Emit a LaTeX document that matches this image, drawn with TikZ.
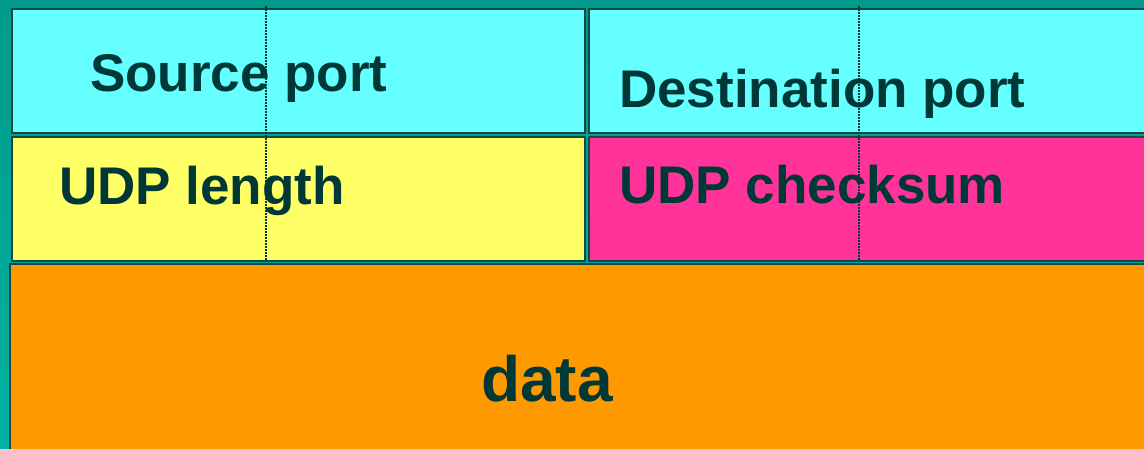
\documentclass[tikz,border=0pt]{standalone}
\usepackage{fontspec}
\setmainfont{Liberation Sans}
\definecolor{bgteal}{HTML}{009A8A}
\definecolor{bgteal2}{HTML}{00B2A2}
\definecolor{edge}{HTML}{164848}
\definecolor{ink}{HTML}{003838}
\definecolor{cyanf}{HTML}{66FFFF}
\definecolor{yellowf}{HTML}{FFFF66}
\definecolor{pinkf}{HTML}{FF3399}
\definecolor{orangef}{HTML}{FF9900}
\begin{document}
\begin{tikzpicture}[x=1pt,y=-1pt,
  field/.style={draw=edge,line width=2.5pt},
  lab/.style={anchor=base west,inner sep=0pt,text=ink,font=\fontsize{53}{60}\selectfont\bfseries},
  guide/.style={draw=ink,line width=1.2pt,dash pattern=on 2pt off 1pt}]
\useasboundingbox (0,0) rectangle (1144,449);
\shade[top color=bgteal,bottom color=bgteal2] (0,0) rectangle (1144,449);
\path[field,fill=cyanf] (12,9) rectangle (585,133);
\path[field,fill=cyanf] (589,9) rectangle (1150,133);
\path[field,fill=yellowf] (12,137) rectangle (585,261);
\path[field,fill=pinkf] (589,137) rectangle (1150,261);
\path[field,fill=orangef] (10,264) rectangle (1150,460);
\coordinate (g1t) at (266,6);
\coordinate (g1b) at (266,261);
\coordinate (g2t) at (859,6);
\coordinate (g2b) at (859,261);
\draw[guide] (g1t) -- (g1b);
\draw[guide] (g2t) -- (g2b);
\node[lab] (src) at (90,92) {Source port};
\node[lab] (dst) at (619,108) {Destination port};
\node[lab] (len) at (59,205) {UDP length};
\node[lab] (chk) at (619,204) {UDP checksum};
\node[lab,anchor=base,font=\fontsize{64}{72}\selectfont\bfseries] (data) at (547,401) {data};
\end{tikzpicture}
\end{document}
